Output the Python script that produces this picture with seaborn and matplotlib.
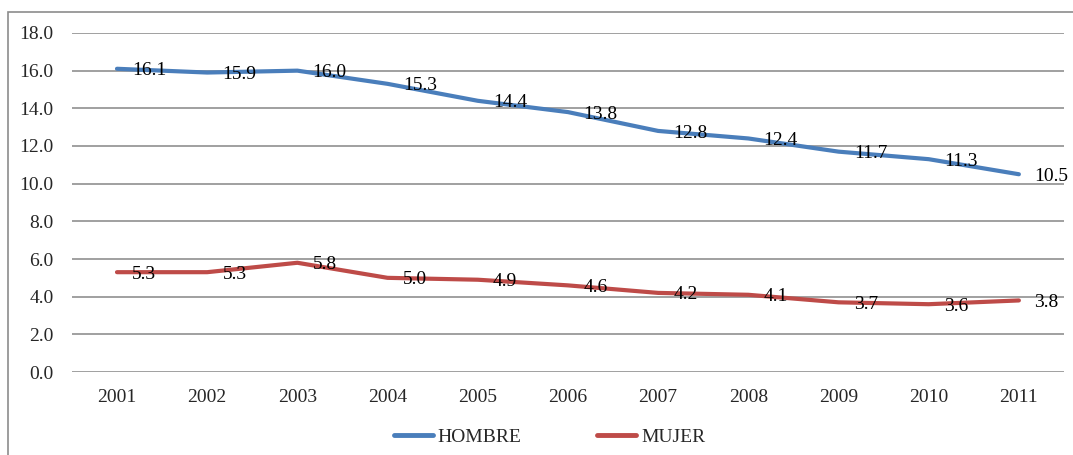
import pandas as pd
import matplotlib.pyplot as plt
import seaborn as sns
from matplotlib.patches import Rectangle

years = [2001, 2002, 2003, 2004, 2005, 2006, 2007, 2008, 2009, 2010, 2011]
hombre = [16.1, 15.9, 16.0, 15.3, 14.4, 13.8, 12.8, 12.4, 11.7, 11.3, 10.5]
mujer = [5.3, 5.3, 5.8, 5.0, 4.9, 4.6, 4.2, 4.1, 3.7, 3.6, 3.8]
yticks = [0, 2, 4, 6, 8, 10, 12, 14, 16, 18]

df = pd.DataFrame({
    'year': years * 2,
    'valor': hombre + mujer,
    'sexo': ['HOMBRE'] * len(years) + ['MUJER'] * len(years),
})

sns.set_style('white')
plt.rcParams['font.family'] = ['Liberation Serif', 'DejaVu Serif']
colors = {'HOMBRE': '#4A7EBB', 'MUJER': '#BE4B48'}
fs = 14

fig = plt.figure(figsize=(10.73, 4.55), dpi=100)
ax = fig.add_axes([0.067, 0.1824, 0.9246, 0.7451])

sns.lineplot(data=df, x='year', y='valor', hue='sexo', palette=colors,
             linewidth=3, ax=ax, legend=False, zorder=3)

for name, vals in [('HOMBRE', hombre), ('MUJER', mujer)]:
    for x, v in zip(years, vals):
        ax.annotate(f'{v:.1f}', (x, v), xytext=(11, -1.5), textcoords='offset points',
                    ha='left', va='center', fontsize=fs, color='black', zorder=4)

ax.set_xlim(2000.5, 2011.5)
ax.set_ylim(0, 18)
ax.set_xticks(years)
ax.set_xticklabels([str(y) for y in years], fontsize=fs)
ax.set_yticks(yticks)
ax.set_yticklabels([f'{t:.1f}' for t in yticks], fontsize=fs)
ax.tick_params(axis='x', length=0, pad=12)
ax.tick_params(axis='y', length=0, pad=13)
ax.grid(axis='y', color='#868686', linewidth=1.1)
ax.set_axisbelow(True)
for s in ax.spines.values():
    s.set_visible(False)
ax.set_xlabel('')
ax.set_ylabel('')

handles = [plt.Line2D([], [], color=colors[k], linewidth=3.5) for k in ['HOMBRE', 'MUJER']]
fig.legend(handles, ['HOMBRE', 'MUJER'], loc='center', bbox_to_anchor=(0.512, 0.04),
           ncol=2, frameon=False, fontsize=fs, handlelength=2.0, handletextpad=0.25,
           columnspacing=3.9)

fig.patches.append(Rectangle((8 / 1073, -0.05), 1.0, 1 - 12 / 455 + 0.05,
                             transform=fig.transFigure, fill=False,
                             edgecolor='#8c8c8c', linewidth=1.2))

plt.savefig('out.png', dpi=100)
